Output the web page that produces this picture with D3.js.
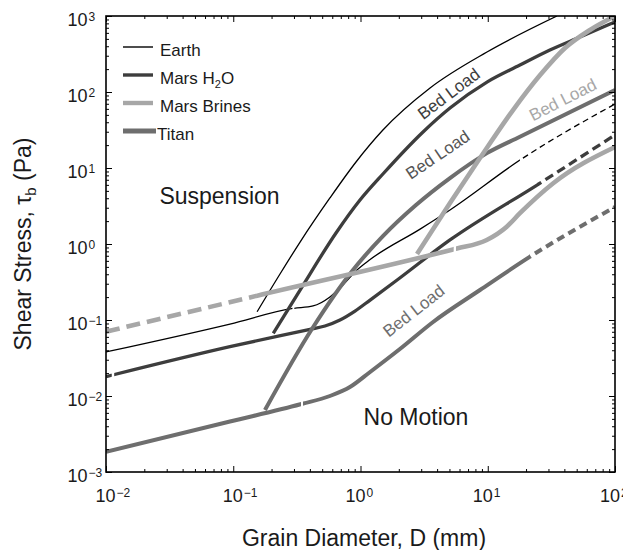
<!DOCTYPE html>
<html>
<head>
<meta charset="utf-8">
<script src="https://cdn.jsdelivr.net/npm/d3@7"></script>
<style>
  body { margin: 0; background: #fff; }
  text { font-family: "Liberation Sans", Arial, Helvetica, sans-serif; fill: #1a1a1a; }
</style>
</head>
<body>
<script>
// grain diameter D (mm), shear stress tau_b (Pa)
var earthThreshold = [[0.01, 0.038], [0.0942, 0.0885], [0.295, 0.142], [0.424, 0.153], [0.575, 0.201],
  [0.728, 0.289], [0.938, 0.455], [1.19, 0.625], [2.94, 1.57], [5.05, 2.8], [17.9, 12.7], [100, 69.5]];
var earthSuspension = [[0.154, 0.1285], [0.233, 0.403], [0.335, 1.06], [0.575, 4.03], [0.922, 12.0],
  [1.5, 31.6], [3.52, 113], [9.86, 336], [35, 1000]];

var marsThreshold = [[0.01, 0.018], [0.0942, 0.0446], [0.401, 0.0755], [0.526, 0.0834], [0.69, 0.1],
  [0.905, 0.131], [1.19, 0.183], [1.94, 0.336], [5.05, 1.13], [24.4, 5.97], [100, 27.2]];
var marsSuspension = [[0.2065, 0.0668], [0.335, 0.248], [0.65, 1.44], [0.991, 3.79], [1.5, 8.34],
  [3.1, 29.8], [5.05, 61.5], [9.86, 135], [17.9, 226], [30.8, 357], [53.1, 529], [100, 834]];

var brinesThreshold = [[0.01, 0.0701], [0.151, 0.207], [5.34, 0.847], [5.73, 0.873], [9.82, 1.13],
  [14.1, 1.69], [17.9, 2.54], [32.7, 6.3], [100, 18.9]];
var brinesSuspension = [[2.78, 0.738], [5.05, 3.46], [8.69, 13.5], [15.8, 57.9], [25.8, 167],
  [40.5, 379], [63.6, 655], [100, 1000]];

var titanThreshold = [[0.01, 0.00185], [0.0942, 0.00461], [0.345, 0.00785], [0.575, 0.01], [0.826, 0.0131],
  [1.19, 0.0207], [2.04, 0.0415], [3.72, 0.0942], [8.69, 0.248], [21.5, 0.681], [100, 3.07]];
var titanSuspension = [[0.1775, 0.00655], [0.414, 0.0755], [0.873, 0.455], [1.5, 1.27], [2.73, 3.26],
  [5.05, 7.38], [9.86, 15.7], [17.9, 25.8], [100, 106]];

// solid / dashed stretches of each curve: [from D, to D, dashed]
var earthThresholdParts = [[0.01, 0.292, 0], [0.302, 17.9, 0], [17.9, 100, 1]];
var marsThresholdParts = [[0.01, 0.0111, 0], [0.0116, 24.4, 0], [24.4, 100, 1]];
var brinesThresholdParts = [[0.01, 0.151, 1], [0.151, 5.4, 0], [5.62, 100, 0]];
var titanThresholdParts = [[0.01, 0.34, 0], [0.353, 21.5, 0], [21.5, 100, 1]];
var wholeCurve = [[0.01, 100, 0]];

var xExponents = [-2, -1, 0, 1, 2];
var yExponents = [-3, -2, -1, 0, 1, 2, 3];
var legendNames = ['Earth', 'Mars H2O', 'Mars Brines', 'Titan'];

var width = 623,
    height = 550;
var pLeft = 106, pRight = 615, pTop = 16, pBottom = 472;

var x = d3.scaleLog().domain([1e-2, 1e2]).range([pLeft, pRight]);
var y = d3.scaleLog().domain([1e-3, 1e3]).range([pBottom, pTop]);

var svg = d3.select('body')
  .append('svg')
  .attr('width', width)
  .attr('height', height);

var defs = svg.append('defs');
var plot = svg.append('g');

var styles = {
  earth:  { color: '#000000', w: 1.3, dash: '6,4' },
  mars:   { color: '#3d3d3d', w: 3.3, dash: '9,5' },
  brines: { color: '#a7a7a7', w: 4.6, dash: '14,7' },
  titan:  { color: '#6e6e6e', w: 4.0, dash: '8,5' }
};

var curves = [
  { pts: earthThreshold, s: styles.earth, parts: earthThresholdParts },
  { pts: earthSuspension, s: styles.earth, parts: wholeCurve },
  { pts: marsThreshold, s: styles.mars, parts: marsThresholdParts },
  { pts: marsSuspension, s: styles.mars, parts: wholeCurve },
  { pts: titanThreshold, s: styles.titan, parts: titanThresholdParts },
  { pts: titanSuspension, s: styles.titan, parts: wholeCurve },
  { pts: brinesThreshold, s: styles.brines, parts: brinesThresholdParts },
  { pts: brinesSuspension, s: styles.brines, parts: wholeCurve }
];

var line = d3.line()
  .x(function(d) { return x(d[0]); })
  .y(function(d) { return y(d[1]); })
  .curve(d3.curveMonotoneX);

curves.forEach(function(c, i) {
  c.parts.forEach(function(p, j) {
    var id = 'clip' + i + '_' + j;
    defs.append('clipPath').attr('id', id)
      .append('rect')
      .attr('x', x(p[0]))
      .attr('width', x(p[1]) - x(p[0]))
      .attr('y', pTop)
      .attr('height', pBottom - pTop);
    plot.append('path')
      .attr('d', line(c.pts))
      .attr('clip-path', 'url(#' + id + ')')
      .attr('fill', 'none')
      .attr('stroke', c.s.color)
      .attr('stroke-width', c.s.w)
      .attr('stroke-dasharray', p[2] ? c.s.dash : null);
  });
});

// region labels
function label(txt, d, tau, angle, size, color) {
  svg.append('text')
    .attr('transform', 'translate(' + x(d) + ',' + y(tau) + ') rotate(' + angle + ')')
    .attr('text-anchor', 'middle')
    .attr('dominant-baseline', 'central')
    .style('font-size', size + 'px')
    .style('fill', color)
    .text(txt);
}
label('Bed Load', 4.95, 94, -37, 17, '#3d3d3d');
label('Bed Load', 4.06, 14.8, -34, 17, '#555555');
label('Bed Load', 39, 78.5, -27, 17, '#a7a7a7');
label('Bed Load', 2.63, 0.131, -38, 17, '#6e6e6e');

svg.append('text')
  .attr('x', x(0.078)).attr('y', y(3.31))
  .attr('text-anchor', 'middle')
  .style('font-size', '23px')
  .text('Suspension');
svg.append('text')
  .attr('x', x(2.73)).attr('y', y(0.00415))
  .attr('text-anchor', 'middle')
  .style('font-size', '23px')
  .text('No Motion');

// axes: ticks inside, on all four sides
var xMajor = xExponents.map(function(e) { return Math.pow(10, e); });
var yMajor = yExponents.map(function(e) { return Math.pow(10, e); });
var isMajor = function(v) { return Math.abs(Math.log10(v) - Math.round(Math.log10(v))) < 1e-9; };
var xMinor = x.ticks().filter(function(v) { return !isMajor(v); });
var yMinor = y.ticks().filter(function(v) { return !isMajor(v); });

function drawAxis(axisFn, scale, vals, len, tx, ty) {
  var g = svg.append('g')
    .attr('transform', 'translate(' + tx + ',' + ty + ')')
    .call(axisFn(scale).tickValues(vals).tickSize(-len).tickFormat(''));
  g.select('.domain').remove();
  g.selectAll('line').attr('stroke', '#000').attr('stroke-width', 1);
  return g;
}
drawAxis(d3.axisBottom, x, xMajor, 6, 0, pBottom);
drawAxis(d3.axisBottom, x, xMinor, 3, 0, pBottom);
drawAxis(d3.axisTop, x, xMajor, 6, 0, pTop);
drawAxis(d3.axisTop, x, xMinor, 3, 0, pTop);
drawAxis(d3.axisLeft, y, yMajor, 6, pLeft, 0);
drawAxis(d3.axisLeft, y, yMinor, 3, pLeft, 0);
drawAxis(d3.axisRight, y, yMajor, 6, pRight, 0);
drawAxis(d3.axisRight, y, yMinor, 3, pRight, 0);

svg.append('rect')
  .attr('x', pLeft).attr('y', pTop)
  .attr('width', pRight - pLeft).attr('height', pBottom - pTop)
  .attr('fill', 'none')
  .attr('stroke', '#000')
  .attr('stroke-width', 1.6);

function expText(e) { return e < 0 ? '\u2212' + (-e) : String(e); }

xExponents.forEach(function(e) {
  var px = x(Math.pow(10, e)) + (e < 0 ? -0.5 : -5);
  svg.append('text')
    .attr('x', px).attr('y', pBottom + 30)
    .attr('text-anchor', 'middle')
    .style('font-size', '18px')
    .text('10');
  svg.append('text')
    .attr('x', px + 11).attr('y', pBottom + 25)
    .style('font-size', '12px')
    .text(expText(e));
});

yExponents.forEach(function(e) {
  var py = y(Math.pow(10, e));
  svg.append('text')
    .attr('x', 87.5).attr('y', py + 9.5)
    .attr('text-anchor', 'end')
    .style('font-size', '18px')
    .text('10');
  svg.append('text')
    .attr('x', 88.5).attr('y', py + 4.5)
    .style('font-size', '12px')
    .text(expText(e));
});

// axis titles
svg.append('text')
  .attr('x', 364).attr('y', 546)
  .attr('text-anchor', 'middle')
  .style('font-size', '23px')
  .text('Grain Diameter, D (mm)');

var yt = svg.append('text')
  .attr('transform', 'translate(31,' + ((pTop + pBottom) / 2) + ') rotate(-90)')
  .attr('text-anchor', 'middle')
  .style('font-size', '23px');
yt.append('tspan').text('Shear Stress, \u03c4');
yt.append('tspan').attr('dy', 5).style('font-size', '15px').text('b');
yt.append('tspan').attr('dy', -5).text(' (Pa)');

// legend
var legendStyles = [styles.earth, styles.mars, styles.brines, styles.titan];
var legendW = [1.4, 3.4, 4.4, 5.2];
var lg = svg.append('g');
legendNames.forEach(function(name, i) {
  var base = 56 + i * 28;
  lg.append('line')
    .attr('x1', 123).attr('x2', i == 3 ? 156 : 153)
    .attr('y1', base - 9).attr('y2', base - 9)
    .attr('stroke', legendStyles[i].color)
    .attr('stroke-width', legendW[i]);
  var t = lg.append('text')
    .attr('x', i == 3 ? 157 : 160).attr('y', base)
    .style('font-size', '17px');
  if (name == 'Mars H2O') {
    t.append('tspan').text('Mars H');
    t.append('tspan').attr('dy', 4).style('font-size', '11px').text('2');
    t.append('tspan').attr('dy', -4).text('O');
  } else {
    t.text(name);
  }
});
</script>
</body>
</html>
